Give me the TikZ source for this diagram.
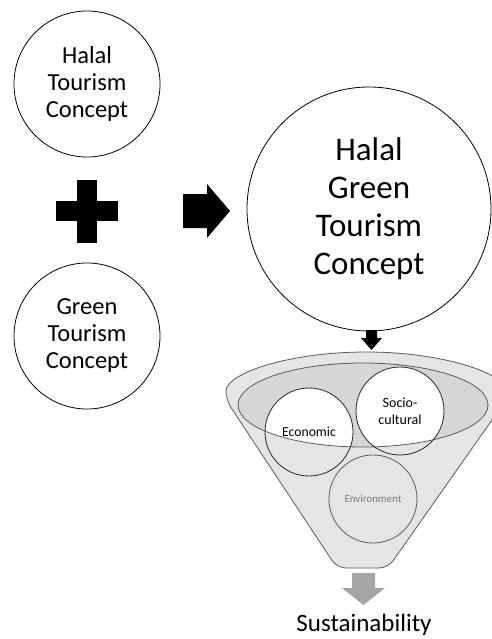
\documentclass[tikz,border=0pt]{standalone}
\usepackage{fontspec}
\setmainfont{Carlito}
\usetikzlibrary{positioning}
\definecolor{funnelfill}{RGB}{229,229,229}
\definecolor{mouthfill}{RGB}{214,214,214}
\definecolor{funnelline}{RGB}{90,90,90}
\definecolor{arrowgray}{RGB}{165,165,165}
\definecolor{envgray}{RGB}{120,120,120}
\begin{document}
\begin{tikzpicture}[x=1pt,y=-1pt,
  concept/.style={circle, draw, line width=0.8pt, inner sep=0pt, align=center},
  pillar/.style={circle, draw=black!85, line width=0.8pt, inner sep=0pt, minimum size=88pt, align=center}]
\useasboundingbox (0,0) rectangle (491,639);
% the two concepts and the sum
\node[concept, minimum size=146pt, font=\fontsize{24.5}{27}\selectfont] (halal) at (87,84){Halal\\Tourism\\Concept};
\node[concept, minimum size=146pt, font=\fontsize{24.5}{27}\selectfont] (green) at (87,336){Green\\Tourism\\Concept};
\fill (77,180) rectangle (97,243);
\fill (56,201) rectangle (118,221);
\fill (183,194) -- (207,194) -- (207,184) -- (230,211) -- (207,238) -- (207,228) -- (183,228) -- cycle;
\node[concept, minimum size=244pt, font=\fontsize{33}{38}\selectfont] (hgt) at (369,209){Halal\\Green\\Tourism\\Concept};
\fill (366,330) -- (377,330) -- (377,338) -- (382,338) -- (371.5,350) -- (361,338) -- (366,338) -- cycle;
% funnel
\filldraw[fill=funnelfill, draw=funnelline, line width=0.8pt, rounded corners=9pt]
  (226,400) arc[start angle=180, end angle=360, x radius=140, y radius=48]
  -- (388,568) -- (337,568) -- cycle;
\fill[mouthfill] (363,405) ellipse [x radius=125, y radius=42];
\begin{scope}
\clip (363,405) ellipse [x radius=125, y radius=42];
\fill[white] (309,432) circle [radius=44];
\fill[white] (400,411) circle [radius=44];
\end{scope}
\draw[funnelline, line width=0.8pt] (363,405) ellipse [x radius=125, y radius=42];
\node[pillar, font=\fontsize{13.7}{16}\selectfont] (econ) at (309,432){Economic};
\node[pillar, font=\fontsize{14}{17}\selectfont] (socio) at (400,411){Socio-\\cultural};
\node[pillar, draw=funnelline, text=envgray, font=\fontsize{10.9}{13}\selectfont] (env) at (373,499){Environment};
% outcome
\fill[arrowgray] (352,573) -- (375,573) -- (375,588) -- (385,588) -- (363.5,605) -- (342,588) -- (352,588) -- cycle;
\node[anchor=base, inner sep=0pt, font=\fontsize{25}{30}\selectfont] (sust) at (364,631){Sustainability};
\end{tikzpicture}
\end{document}
